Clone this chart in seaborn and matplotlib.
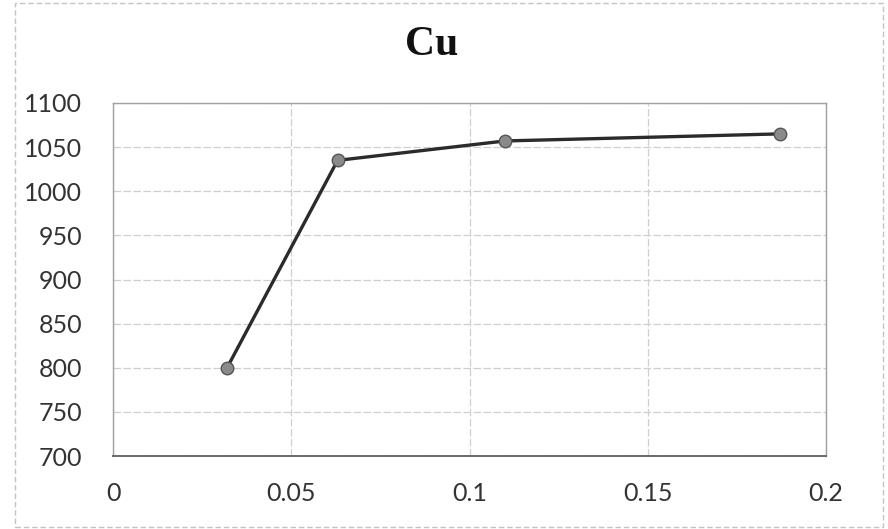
import matplotlib
matplotlib.use("Agg")
import matplotlib.pyplot as plt
import seaborn as sns
import pandas as pd
from matplotlib.patches import Rectangle

# Data
x_vals = [0.032, 0.063, 0.110, 0.187]
y_vals = [800, 1035, 1057, 1065]
x_ticks = [0, 0.05, 0.1, 0.15, 0.2]
x_tick_labels = ["0", "0.05", "0.1", "0.15", "0.2"]
y_ticks = [700, 750, 800, 850, 900, 950, 1000, 1050, 1100]
title = "Cu"

df = pd.DataFrame({"x": x_vals, "y": y_vals})

sns.set_theme(style="white")
plt.rcParams["font.family"] = ["Lato", "DejaVu Sans"]

fig = plt.figure(figsize=(8.88, 5.29), dpi=100)
ax = fig.add_axes([113 / 888, 1 - 456 / 529, (826 - 113) / 888, (456 - 103) / 529])

sns.lineplot(data=df, x="x", y="y", ax=ax, color="#2b2b2b", linewidth=2.4,
             marker="o", markersize=9, markerfacecolor="#8a8a8a",
             markeredgecolor="#555555", markeredgewidth=1.0, zorder=3)

ax.set_xlim(0, 0.2)
ax.set_ylim(700, 1100)
ax.set_xticks(x_ticks)
ax.set_xticklabels(x_tick_labels)
ax.set_yticks(y_ticks)
ax.set_xlabel("")
ax.set_ylabel("")
ax.grid(True, color="#cfcfcf", linewidth=0.9, linestyle=(0, (6, 2)))
ax.set_axisbelow(True)
for s in ax.spines.values():
    s.set_color("#a0a0a0")
    s.set_linewidth(1.0)
ax.spines["bottom"].set_color("#6a6a6a")
ax.spines["bottom"].set_linewidth(1.4)
ax.tick_params(axis="both", length=0, labelsize=18, colors="#333333")
ax.tick_params(axis="y", pad=22)
ax.tick_params(axis="x", pad=19)

fig.text(432 / 888, 1 - 45 / 529, title, ha="center", va="center",
         fontsize=30, fontweight="bold", family=["Liberation Serif", "DejaVu Serif"],
         color="#111111")

fig.patches.append(Rectangle((15 / 888, 2 / 529), 868 / 888, 524 / 529,
                             transform=fig.transFigure, fill=False,
                             edgecolor="#c4c4c4", linewidth=1.0,
                             linestyle=(0, (4, 2))))

fig.savefig("out.png", dpi=100)
